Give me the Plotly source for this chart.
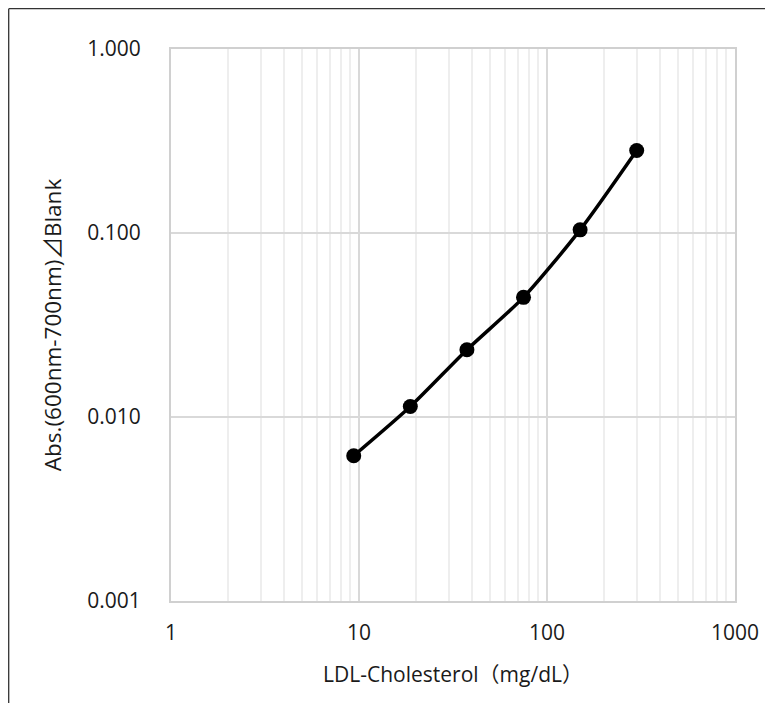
import plotly.graph_objects as go

conc = [9.375, 18.75, 37.5, 75, 150, 300]
absorb = [0.00616, 0.0114, 0.0232, 0.0447, 0.104, 0.281]

x_ticks = [1, 10, 100, 1000]
x_labels = ["1", "10", "100", "1000"]
y_ticks = [0.001, 0.01, 0.1, 1]
y_labels = ["0.001", "0.010", "0.100", "1.000"]

FONT = "Open Sans, Noto Sans CJK JP, sans-serif"
TXT = "#1a1a1a"

fig = go.Figure()
fig.add_trace(go.Scatter(
    x=conc, y=absorb, mode="lines+markers",
    line=dict(color="black", width=3.5, shape="spline", smoothing=0.7),
    marker=dict(color="black", size=15),
    showlegend=False,
))

axis_common = dict(
    type="log", showgrid=True, gridcolor="#d9d9d9", gridwidth=2,
    showline=True, linecolor="#d0d0d0", linewidth=2, mirror=True,
    ticks="", zeroline=False,
    tickfont=dict(family=FONT, size=21, color=TXT),
)

fig.update_xaxes(
    **axis_common, range=[0, 3], tickvals=x_ticks, ticktext=x_labels,
    ticklabelstandoff=12,
    minor=dict(showgrid=True, gridcolor="#eeeeee", gridwidth=2, dtick="D1", ticks=""),
    title=dict(text="LDL-Cholesterol（mg/dL）", font=dict(family=FONT, size=21, color=TXT), standoff=22),
)
fig.update_yaxes(
    **axis_common, range=[-3, 0], tickvals=y_ticks, ticktext=y_labels,
    ticklabelstandoff=24,
    title=dict(text="Abs.(600nm-700nm)⊿Blank", font=dict(family=FONT, size=22.5, color=TXT), standoff=19),
)

W, H = 765, 695
l, t = 163, 41
pw, ph = 564, 552

# outer frame (left and top edges visible)
x_left = (0.7 - l) / pw
y_top = (t + ph - 0.7) / ph
y_bot = (t + ph - H) / ph
x_right = (W - l) / pw
fig.add_shape(type="line", xref="paper", yref="paper", x0=x_left, x1=x_left, y0=y_bot, y1=y_top,
              line=dict(color="#333333", width=1.3))
fig.add_shape(type="line", xref="paper", yref="paper", x0=x_left, x1=x_right, y0=y_top, y1=y_top,
              line=dict(color="#333333", width=1.3))

fig.update_layout(
    width=W, height=H,
    margin=dict(l=l, r=W - l - pw, t=t, b=H - t - ph),
    paper_bgcolor="white", plot_bgcolor="white",
)

fig.write_html("out.html")
